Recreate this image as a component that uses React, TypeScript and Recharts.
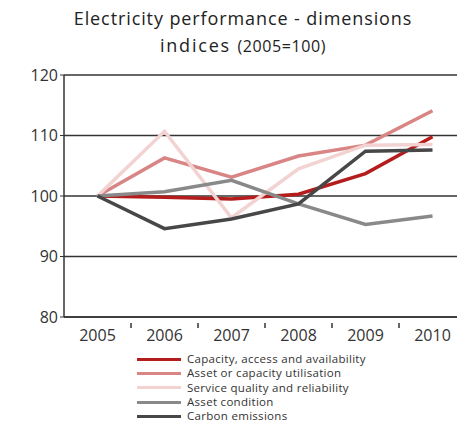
import { LineChart, Line, XAxis, YAxis, CartesianGrid, Legend } from 'recharts'

const years = ['2005', '2006', '2007', '2008', '2009', '2010']
const capacity = [100, 99.8, 99.5, 100.3, 103.7, 109.8]
const utilisation = [100, 106.3, 103.1, 106.6, 108.4, 114.1]
const serviceQuality = [100, 110.7, 96.4, 104.5, 108.4, 108.5]
const assetCondition = [100, 100.7, 102.6, 98.7, 95.3, 96.7]
const carbon = [100, 94.6, 96.2, 98.7, 107.4, 107.6]
const yTicks = [80, 90, 100, 110, 120]

const series = [
  { key: 'Capacity, access and availability', values: capacity, color: '#b51c1c' },
  { key: 'Asset or capacity utilisation', values: utilisation, color: '#d98585' },
  { key: 'Service quality and reliability', values: serviceQuality, color: '#f3d2d2' },
  { key: 'Asset condition', values: assetCondition, color: '#898989' },
  { key: 'Carbon emissions', values: carbon, color: '#474747' },
]

const data = years.map((year, i) => {
  const row: Record<string, string | number> = { year }
  series.forEach((s) => {
    row[s.key] = s.values[i]
  })
  return row
})

const FONT = '"Open Sans", "DejaVu Sans", sans-serif'

// year label centred on the category, tick mark on the band boundary
function YearTick(props: any) {
  const { x, y, payload } = props
  const half = payload?.offset || 33.5
  return (
    <g>
      <line x1={x + half} y1={y - 2} x2={x + half} y2={y + 3} stroke="#333" strokeWidth={1.5} />
      <text x={x} y={y + 16} textAnchor="middle" fill="#333" fontSize={16} fontFamily={FONT}>
        {payload.value}
      </text>
    </g>
  )
}

// keep the legend in series order (recharts sorts it by name otherwise)
function LegendBox() {
  return (
    <div style={{ fontFamily: FONT, fontSize: 11.5, letterSpacing: 0.3, color: '#333', lineHeight: '14.3px' }}>
      {series.map((s) => (
        <div key={s.key} style={{ display: 'flex', alignItems: 'center' }}>
          <span style={{ width: 44, height: 3, background: s.color, display: 'inline-block', marginRight: 6 }} />
          <span>{s.key}</span>
        </div>
      ))}
    </div>
  )
}

export default function App() {
  return (
    <div
      style={{
        position: 'absolute',
        left: 0,
        top: 0,
        width: 457,
        height: 425,
        overflow: 'hidden',
        background: '#fff',
      }}
    >
      <div
        style={{
          position: 'absolute',
          left: 0,
          width: 486,
          top: 5,
          textAlign: 'center',
          fontFamily: FONT,
          color: '#222',
        }}
      >
        <div style={{ fontSize: 18, lineHeight: '27px', letterSpacing: 0.9 }}>
          Electricity performance - dimensions
        </div>
        <div style={{ fontSize: 18, lineHeight: '27px', letterSpacing: 1.8 }}>
          indices <span style={{ fontSize: 16, letterSpacing: 0.6 }}>(2005=100)</span>
        </div>
      </div>
      <div style={{ position: 'absolute', left: 0, top: 0 }}>
        <LineChart width={470} height={425} data={data} margin={{ top: 75, right: 4, left: 0, bottom: 78 }}>
          <CartesianGrid vertical={false} stroke="#333" strokeWidth={1.5} />
          <XAxis
            dataKey="year"
            scale="band"
            height={30}
            axisLine={{ stroke: '#333', strokeWidth: 1.5 }}
            tickLine={false}
            tick={<YearTick />}
            interval={0}
          />
          <YAxis
            domain={[80, 120]}
            ticks={yTicks}
            width={64}
            axisLine={{ stroke: '#333', strokeWidth: 1.5 }}
            tickLine={{ stroke: '#333' }}
            tickSize={4}
            tick={{ fill: '#333', fontSize: 16, fontFamily: FONT }}
          />
          <Legend
            layout="vertical"
            verticalAlign="middle"
            align="center"
            wrapperStyle={{ left: 137, top: 352, width: 280 }}
            content={<LegendBox />}
          />
          {series.map((s) => (
            <Line
              key={s.key}
              dataKey={s.key}
              type="linear"
              stroke={s.color}
              strokeWidth={3.5}
              dot={false}
              isAnimationActive={false}
            />
          ))}
        </LineChart>
      </div>
    </div>
  )
}
